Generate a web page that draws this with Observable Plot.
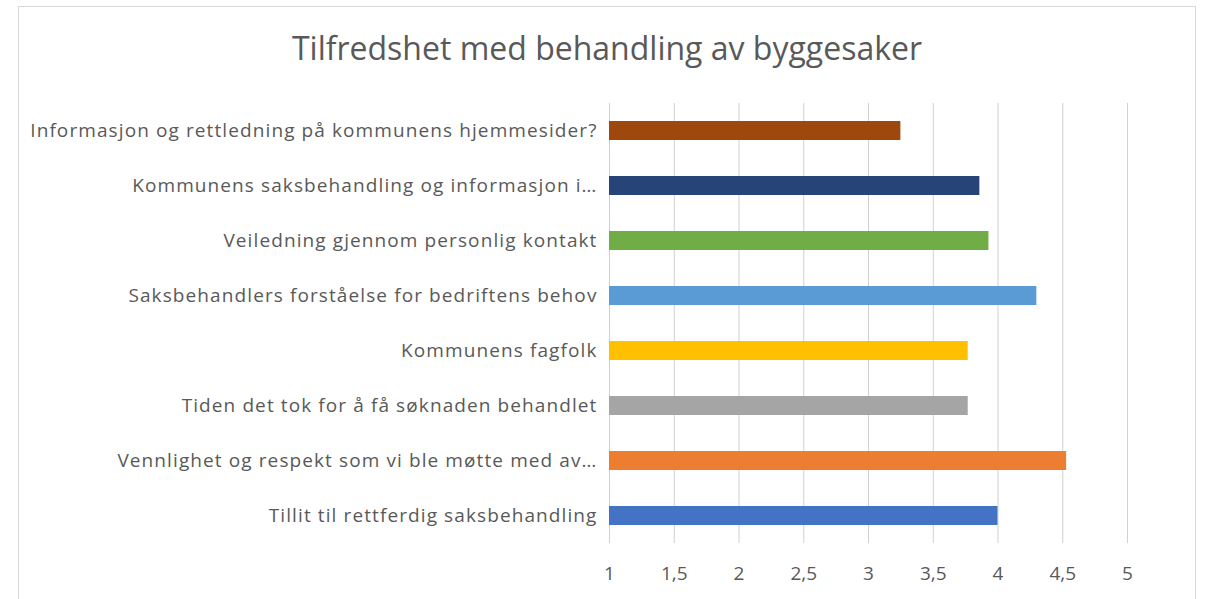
<!DOCTYPE html>
<html>
<head>
<meta charset="utf-8">
<script src="https://cdn.jsdelivr.net/npm/d3@7"></script>
<script src="https://cdn.jsdelivr.net/npm/@observablehq/plot@0.6"></script>
<style>
  html, body { margin: 0; padding: 0; background: #fff; }
  body { width: 1206px; height: 599px; overflow: hidden; position: relative; font-family: "Open Sans", sans-serif; }
  #frame { position: absolute; left: 18px; top: 6px; width: 1178px; height: 640px; border: 1px solid #d9d9d9; box-sizing: border-box; }
  #title { position: relative; height: 90px; box-sizing: border-box; padding-top: 30px; padding-left: 8px; text-align: center; font-size: 32px; line-height: 36px; color: #595959; white-space: nowrap; }
  #chart { position: relative; }
  #chart svg g[aria-label="y-axis tick label"] text { letter-spacing: 1.1px; }
</style>
</head>
<body>
<div id="frame"></div>
<div id="title">Tilfredshet med behandling av byggesaker</div>
<div id="chart"></div>
<script>
const categories = [
  "Informasjon og rettledning på kommunens hjemmesider?",
  "Kommunens saksbehandling og informasjon i…",
  "Veiledning gjennom personlig kontakt",
  "Saksbehandlers forståelse for bedriftens behov",
  "Kommunens fagfolk",
  "Tiden det tok for å få søknaden behandlet",
  "Vennlighet og respekt som vi ble møtte med av…",
  "Tillit til rettferdig saksbehandling"
];
const values = [3.25, 3.86, 3.93, 4.30, 3.77, 3.77, 4.53, 4.00];
const colors = ["#9E480E", "#264478", "#70AD47", "#5B9BD5", "#FFC000", "#A5A5A5", "#ED7D31", "#4472C4"];
const xTicks = [1, 1.5, 2, 2.5, 3, 3.5, 4, 4.5, 5];
const axisMin = 1;

const data = categories.map((c, i) => ({category: c, value: values[i]}));

const chart = Plot.plot({
  width: 1206,
  height: 509,
  marginLeft: 609,
  marginRight: 79,
  marginTop: 13,
  marginBottom: 56,
  style: {fontFamily: "Open Sans, sans-serif", fontSize: "19px", color: "#595959", background: "transparent"},
  x: {domain: [1, 5]},
  y: {domain: categories, paddingInner: 0.65, paddingOuter: 0.325},
  color: {domain: categories, range: colors},
  marks: [
    Plot.gridX(xTicks, {stroke: "#d0d0d0", strokeOpacity: 1, strokeWidth: 1}),
    Plot.barX(data, {x1: axisMin, x2: "value", y: "category", fill: "category"}),
    Plot.axisX(xTicks, {tickSize: 0, tickPadding: 23, tickFormat: d => String(d).replace(".", ","), label: null, fontSize: 19}),
    Plot.axisY({tickSize: 0, tickPadding: 12, label: null, fontSize: 19})
  ]
});
document.getElementById("chart").appendChild(chart);
</script>
</body>
</html>
